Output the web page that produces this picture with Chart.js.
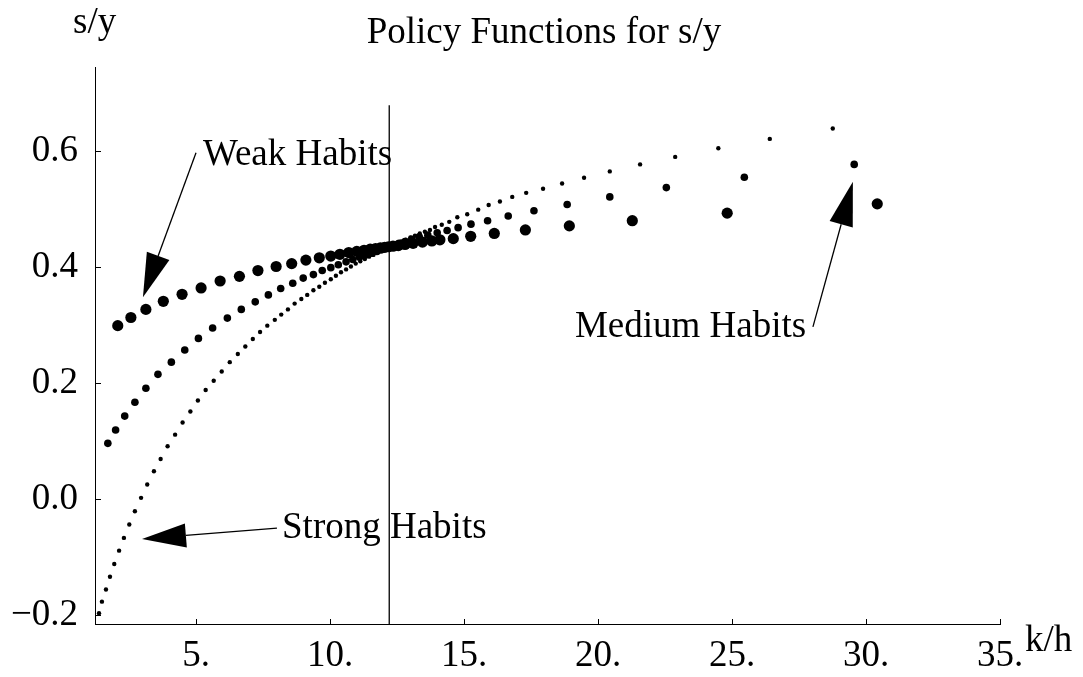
<!DOCTYPE html>
<html>
<head>
<meta charset="utf-8">
<title>Policy Functions for s/y</title>
<script src="https://cdn.jsdelivr.net/npm/chart.js@4.4.1/dist/chart.umd.min.js"></script>
<style>
  html, body { margin: 0; padding: 0; background: #fff; }
</style>
</head>
<body>
<canvas id="policyChart" width="1083" height="677"></canvas>
<script>
// 坐标轴范围与刻度
const X_MIN = 1.231;
const X_MAX = 35;
const Y_MIN = -0.2155;
const Y_MAX = 0.745;
const X_TICKS = [5, 10, 15, 20, 25, 30, 35];
const Y_TICKS = [-0.2, 0.0, 0.2, 0.4, 0.6];

// Weak Habits（大圆点）
const weakX = [2.08, 2.57, 3.13, 3.78, 4.48, 5.19, 5.90, 6.62, 7.31, 7.99,
  8.57, 9.10, 9.60, 10.03, 10.37, 10.70, 11.00, 11.27, 11.50, 11.70,
  11.88, 12.04, 12.18, 12.35, 12.55, 12.80, 13.10, 13.45, 13.80, 14.10,
  14.60, 15.25, 16.13, 17.29, 18.93, 21.28, 24.82, 30.42];
const weakY = [0.299, 0.313, 0.327, 0.341, 0.353, 0.364, 0.376, 0.384, 0.394, 0.401,
  0.406, 0.412, 0.416, 0.419, 0.422, 0.425, 0.427, 0.429, 0.431, 0.432,
  0.433, 0.434, 0.435, 0.436, 0.437, 0.439, 0.441, 0.443, 0.445, 0.447,
  0.449, 0.453, 0.458, 0.464, 0.471, 0.480, 0.493, 0.509];

// Medium Habits（中圆点）
const mediumX = [1.71, 2.00, 2.34, 2.72, 3.13, 3.58, 4.08, 4.58, 5.09, 5.62,
  6.17, 6.69, 7.21, 7.70, 8.16, 8.61, 9.00, 9.38, 9.71, 10.03,
  10.31, 10.60, 10.85, 11.10, 11.33, 11.55, 11.75, 11.92, 12.08, 12.22,
  12.38, 12.58, 12.80, 13.05, 13.33, 13.65, 14.00, 14.37, 14.78, 15.26,
  15.88, 16.65, 17.61, 18.85, 20.44, 22.55, 25.46, 29.56];
const mediumY = [0.096, 0.119, 0.143, 0.167, 0.191, 0.215, 0.236, 0.257, 0.277, 0.295,
  0.312, 0.327, 0.340, 0.352, 0.363, 0.372, 0.381, 0.387, 0.394, 0.399,
  0.404, 0.409, 0.413, 0.417, 0.421, 0.424, 0.427, 0.430, 0.432, 0.435,
  0.438, 0.441, 0.444, 0.448, 0.452, 0.455, 0.459, 0.463, 0.468, 0.474,
  0.480, 0.488, 0.497, 0.508, 0.521, 0.537, 0.555, 0.577];

// Strong Habits（小圆点）
const strongX = [1.38, 1.49, 1.64, 1.79, 1.95, 2.13, 2.31, 2.51, 2.72, 2.95,
  3.18, 3.43, 3.68, 3.94, 4.22, 4.50, 4.79, 5.07, 5.36, 5.66,
  5.96, 6.26, 6.56, 6.84, 7.12, 7.39, 7.66, 7.94, 8.18, 8.43,
  8.68, 8.93, 9.15, 9.38, 9.60, 9.81, 10.03, 10.22, 10.41, 10.60,
  10.78, 10.96, 11.13, 11.30, 11.46, 11.62, 11.77, 11.92, 12.06, 12.20,
  12.34, 12.50, 12.66, 12.83, 13.00, 13.17, 13.35, 13.54, 13.73, 13.92,
  14.17, 14.45, 14.75, 15.12, 15.53, 15.92, 16.34, 16.80, 17.32, 17.95,
  18.66, 19.48, 20.44, 21.57, 22.88, 24.49, 26.41, 28.76];
const strongY = [-0.197, -0.177, -0.156, -0.134, -0.112, -0.089, -0.067, -0.044, -0.021, 0.002,
  0.025, 0.048, 0.069, 0.091, 0.111, 0.132, 0.151, 0.170, 0.188, 0.204,
  0.220, 0.236, 0.250, 0.263, 0.276, 0.288, 0.299, 0.309, 0.318, 0.327,
  0.337, 0.345, 0.352, 0.360, 0.366, 0.373, 0.379, 0.385, 0.391, 0.396,
  0.401, 0.406, 0.410, 0.414, 0.418, 0.421, 0.425, 0.428, 0.431, 0.435,
  0.438, 0.441, 0.444, 0.447, 0.451, 0.454, 0.458, 0.461, 0.464, 0.469,
  0.473, 0.478, 0.486, 0.491, 0.499, 0.507, 0.513, 0.521, 0.528, 0.535,
  0.544, 0.554, 0.565, 0.577, 0.590, 0.605, 0.621, 0.639];

// 稳态竖线
const steadyX = [12.21, 12.21];
const steadyY = [0.679, Y_MIN];

// 标注：文字与箭头（数据坐标）
const notes = [
  { text: 'Weak Habits',   at: [5.26, 0.576],  from: [5.00, 0.597],  to: [3.02, 0.348] },
  { text: 'Strong Habits', at: [8.21, -0.067], from: [8.02, -0.050], to: [2.985, -0.069] },
  { text: 'Medium Habits', at: [19.14, 0.279], from: [28.02, 0.297], to: [29.51, 0.547] }
];

const FONT = '37px "Liberation Serif", "Times New Roman", serif';

function toPoints(xs, ys) {
  return xs.map((x, i) => ({ x: x, y: ys[i] }));
}

// 刻度线、标题和标注
const decorPlugin = {
  id: 'decor',
  afterDraw(chart) {
    const { ctx, scales: { x, y } } = chart;
    ctx.save();
    ctx.strokeStyle = '#000';
    ctx.fillStyle = '#000';
    ctx.lineWidth = 1;

    // 刻度线（向内）
    ctx.beginPath();
    X_TICKS.forEach(v => {
      const px = Math.round(x.getPixelForValue(v)) + 0.5;
      ctx.moveTo(px, y.bottom);
      ctx.lineTo(px, y.bottom - 5);
    });
    Y_TICKS.forEach(v => {
      const py = Math.round(y.getPixelForValue(v)) + 0.5;
      ctx.moveTo(x.left, py);
      ctx.lineTo(x.left + 6, py);
    });
    ctx.stroke();

    ctx.font = FONT;
    ctx.textBaseline = 'alphabetic';
    ctx.textAlign = 'center';
    ctx.fillText('Policy Functions for s/y', 544, 43);
    ctx.textAlign = 'left';
    ctx.fillText('s/y', 73, 33);
    ctx.fillText('k/h', 1025, 651);

    // 箭头
    ctx.lineWidth = 1.3;
    notes.forEach(n => {
      ctx.fillText(n.text, x.getPixelForValue(n.at[0]), y.getPixelForValue(n.at[1]));
      const sx = x.getPixelForValue(n.from[0]), sy = y.getPixelForValue(n.from[1]);
      const tx = x.getPixelForValue(n.to[0]), ty = y.getPixelForValue(n.to[1]);
      const len = Math.hypot(tx - sx, ty - sy);
      const ux = (tx - sx) / len, uy = (ty - sy) / len;
      const bx = tx - ux * 44, by = ty - uy * 44;
      ctx.beginPath();
      ctx.moveTo(sx, sy);
      ctx.lineTo(bx, by);
      ctx.stroke();
      ctx.beginPath();
      ctx.moveTo(tx, ty);
      ctx.lineTo(bx - uy * 12, by + ux * 12);
      ctx.lineTo(bx + uy * 12, by - ux * 12);
      ctx.closePath();
      ctx.fill();
    });
    ctx.restore();
  }
};

const policyChart = new Chart(document.getElementById('policyChart'), {
  type: 'scatter',
  data: {
    datasets: [
      {
        label: 'Weak Habits',
        data: toPoints(weakX, weakY),
        pointRadius: 5.6,
        backgroundColor: '#000',
        borderWidth: 0
      },
      {
        label: 'Medium Habits',
        data: toPoints(mediumX, mediumY),
        pointRadius: 3.8,
        backgroundColor: '#000',
        borderWidth: 0
      },
      {
        label: 'Strong Habits',
        data: toPoints(strongX, strongY),
        pointRadius: 2.2,
        backgroundColor: '#000',
        borderWidth: 0
      },
      {
        type: 'line',
        label: 'steady state',
        data: toPoints(steadyX, steadyY),
        borderColor: '#000',
        borderWidth: 1.3,
        pointRadius: 0
      }
    ]
  },
  options: {
    responsive: false,
    animation: false,
    layout: { padding: { top: 67, right: 83, left: 0, bottom: 0 } },
    plugins: {
      legend: { display: false },
      tooltip: { enabled: false }
    },
    scales: {
      x: {
        type: 'linear',
        min: X_MIN,
        max: X_MAX,
        grid: { display: false, drawTicks: false },
        border: { display: true, color: '#000', width: 1 },
        afterBuildTicks: scale => { scale.ticks = X_TICKS.map(v => ({ value: v })); },
        afterFit: scale => { scale.height = 53; },
        ticks: {
          color: '#000',
          padding: 10,
          maxRotation: 0,
          font: { family: '"Liberation Serif", "Times New Roman", serif', size: 37 },
          callback: v => v + '.'
        }
      },
      y: {
        type: 'linear',
        min: Y_MIN,
        max: Y_MAX,
        grid: { display: false, drawTicks: false },
        border: { display: true, color: '#000', width: 1 },
        afterBuildTicks: scale => { scale.ticks = Y_TICKS.map(v => ({ value: v })); },
        afterFit: scale => { scale.width = 95; },
        ticks: {
          color: '#000',
          padding: 17,
          font: { family: '"Liberation Serif", "Times New Roman", serif', size: 37 },
          callback: v => (v < 0 ? '\u2212' + Math.abs(v).toFixed(1) : v.toFixed(1))
        }
      }
    }
  },
  plugins: [decorPlugin]
});
</script>
</body>
</html>
